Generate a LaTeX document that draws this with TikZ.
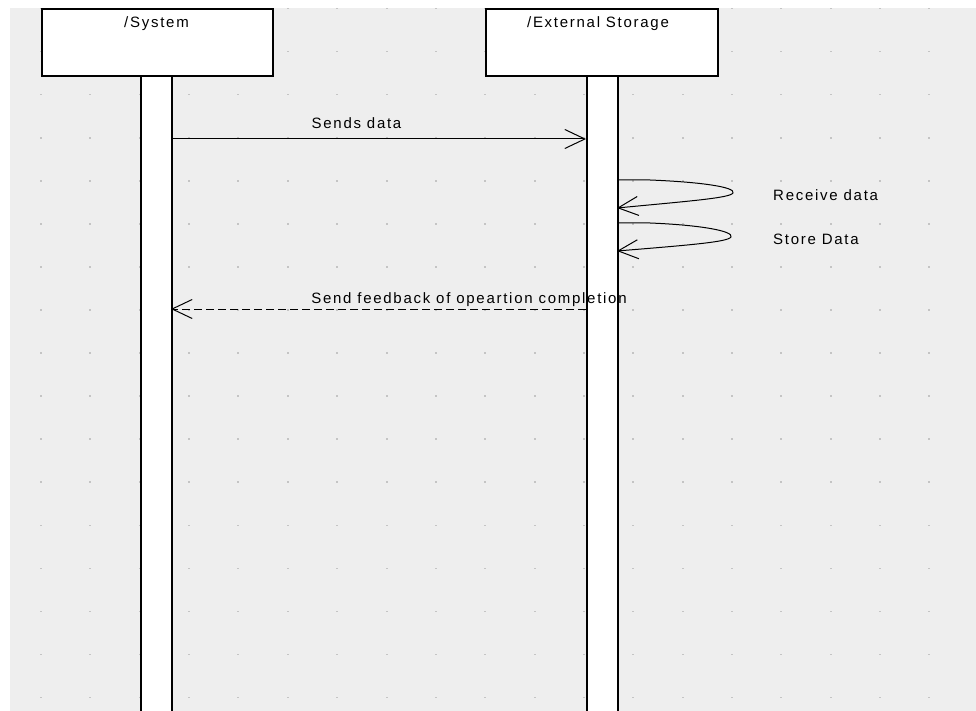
\documentclass[tikz,border=0pt]{standalone}
\usepackage{fontspec}
\newfontfamily\umlfont{Liberation Sans}[LetterSpace=11.5]
\usetikzlibrary{arrows.meta,calc}
\definecolor{canvas}{HTML}{EEEEEE}
\definecolor{griddot}{HTML}{C4C4C4}
\definecolor{shade}{HTML}{9A9A9A}
\tikzset{
  lifebox/.style={draw=black,line width=1.8pt,fill=white,inner sep=0pt},
  lifebar/.style={draw=black,line width=1.8pt,fill=white,inner sep=0pt},
  umltext/.style={font=\umlfont\fontsize{15}{17}\selectfont,inner sep=0pt,anchor=base},
  msg/.style={line width=1pt,-{Straight Barb[length=20pt,width=19pt,line width=1pt]}},
  reply/.style={msg,dash pattern=on 8pt off 4pt},
}
\begin{document}
\begin{tikzpicture}[x=1pt,y=-1pt]
\useasboundingbox (0,0) rectangle (976,711);
\fill[white] (0,0) rectangle (976,711);
\fill[canvas] (10,8) rectangle (976,711);
% grid dots
\foreach \i in {0,...,18}{
  \foreach \j in {0,...,16}{
    \fill[griddot] ({41+49.36*\i-1},{8.5+43.07*\j-0.8}) rectangle ++(2,1.6);
  }
}
% shadows
\fill[shade!50] (43,10) rectangle (274,77);
\fill[shade!50] (487,10) rectangle (719,77);
\fill[shade!50] (142,77) rectangle (173,711);
\fill[shade!50] (588,77) rectangle (619,711);
% lifelines
\node[lifebar,minimum width=31pt,minimum height=640pt,anchor=north west] (sysbar) at (140,75) {};
\node[lifebar,minimum width=31pt,minimum height=640pt,anchor=north west] (extbar) at (586,75) {};
\node[lifebox,minimum width=231pt,minimum height=67pt,anchor=north west] (sys) at (41,8) {};
\node[lifebox,minimum width=232pt,minimum height=67pt,anchor=north west] (ext) at (485,8) {};
\node[umltext] (systxt) at (156.5,27.5) {/System};
\node[umltext] (exttxt) at (598,27.5) {/External Storage};
% coordinates on lifelines
\coordinate (m1a) at (171,139);
\coordinate (m1b) at (586,139);
\coordinate (s1a) at (617,180);
\coordinate (s1b) at (617,208);
\coordinate (s2a) at (617,223);
\coordinate (s2b) at (617,251);
\coordinate (r1a) at (586,309);
\coordinate (r1b) at (171,309);
% messages
\draw[msg] (m1a) -- (m1b);
\node[umltext] (m1txt) at (356.5,128.5) {Sends data};
\draw[msg] (s1a) -- (650,180) .. controls (700,182) and (736,187) .. (733,193)
  .. controls (730,198) and (690,201) .. (s1b);
\node[umltext,anchor=base west] (s1txt) at (773,201) {Receive data};
\draw[msg] (s2a) -- (650,223) .. controls (700,225) and (734,231) .. (731,237)
  .. controls (728,242) and (690,245) .. (s2b);
\node[umltext,anchor=base west] (s2txt) at (773,244) {Store Data};
\draw[reply] (r1a) -- (r1b);
\node[umltext] (r1txt) at (469,303) {Send feedback of opeartion completion};
\end{tikzpicture}
\end{document}
